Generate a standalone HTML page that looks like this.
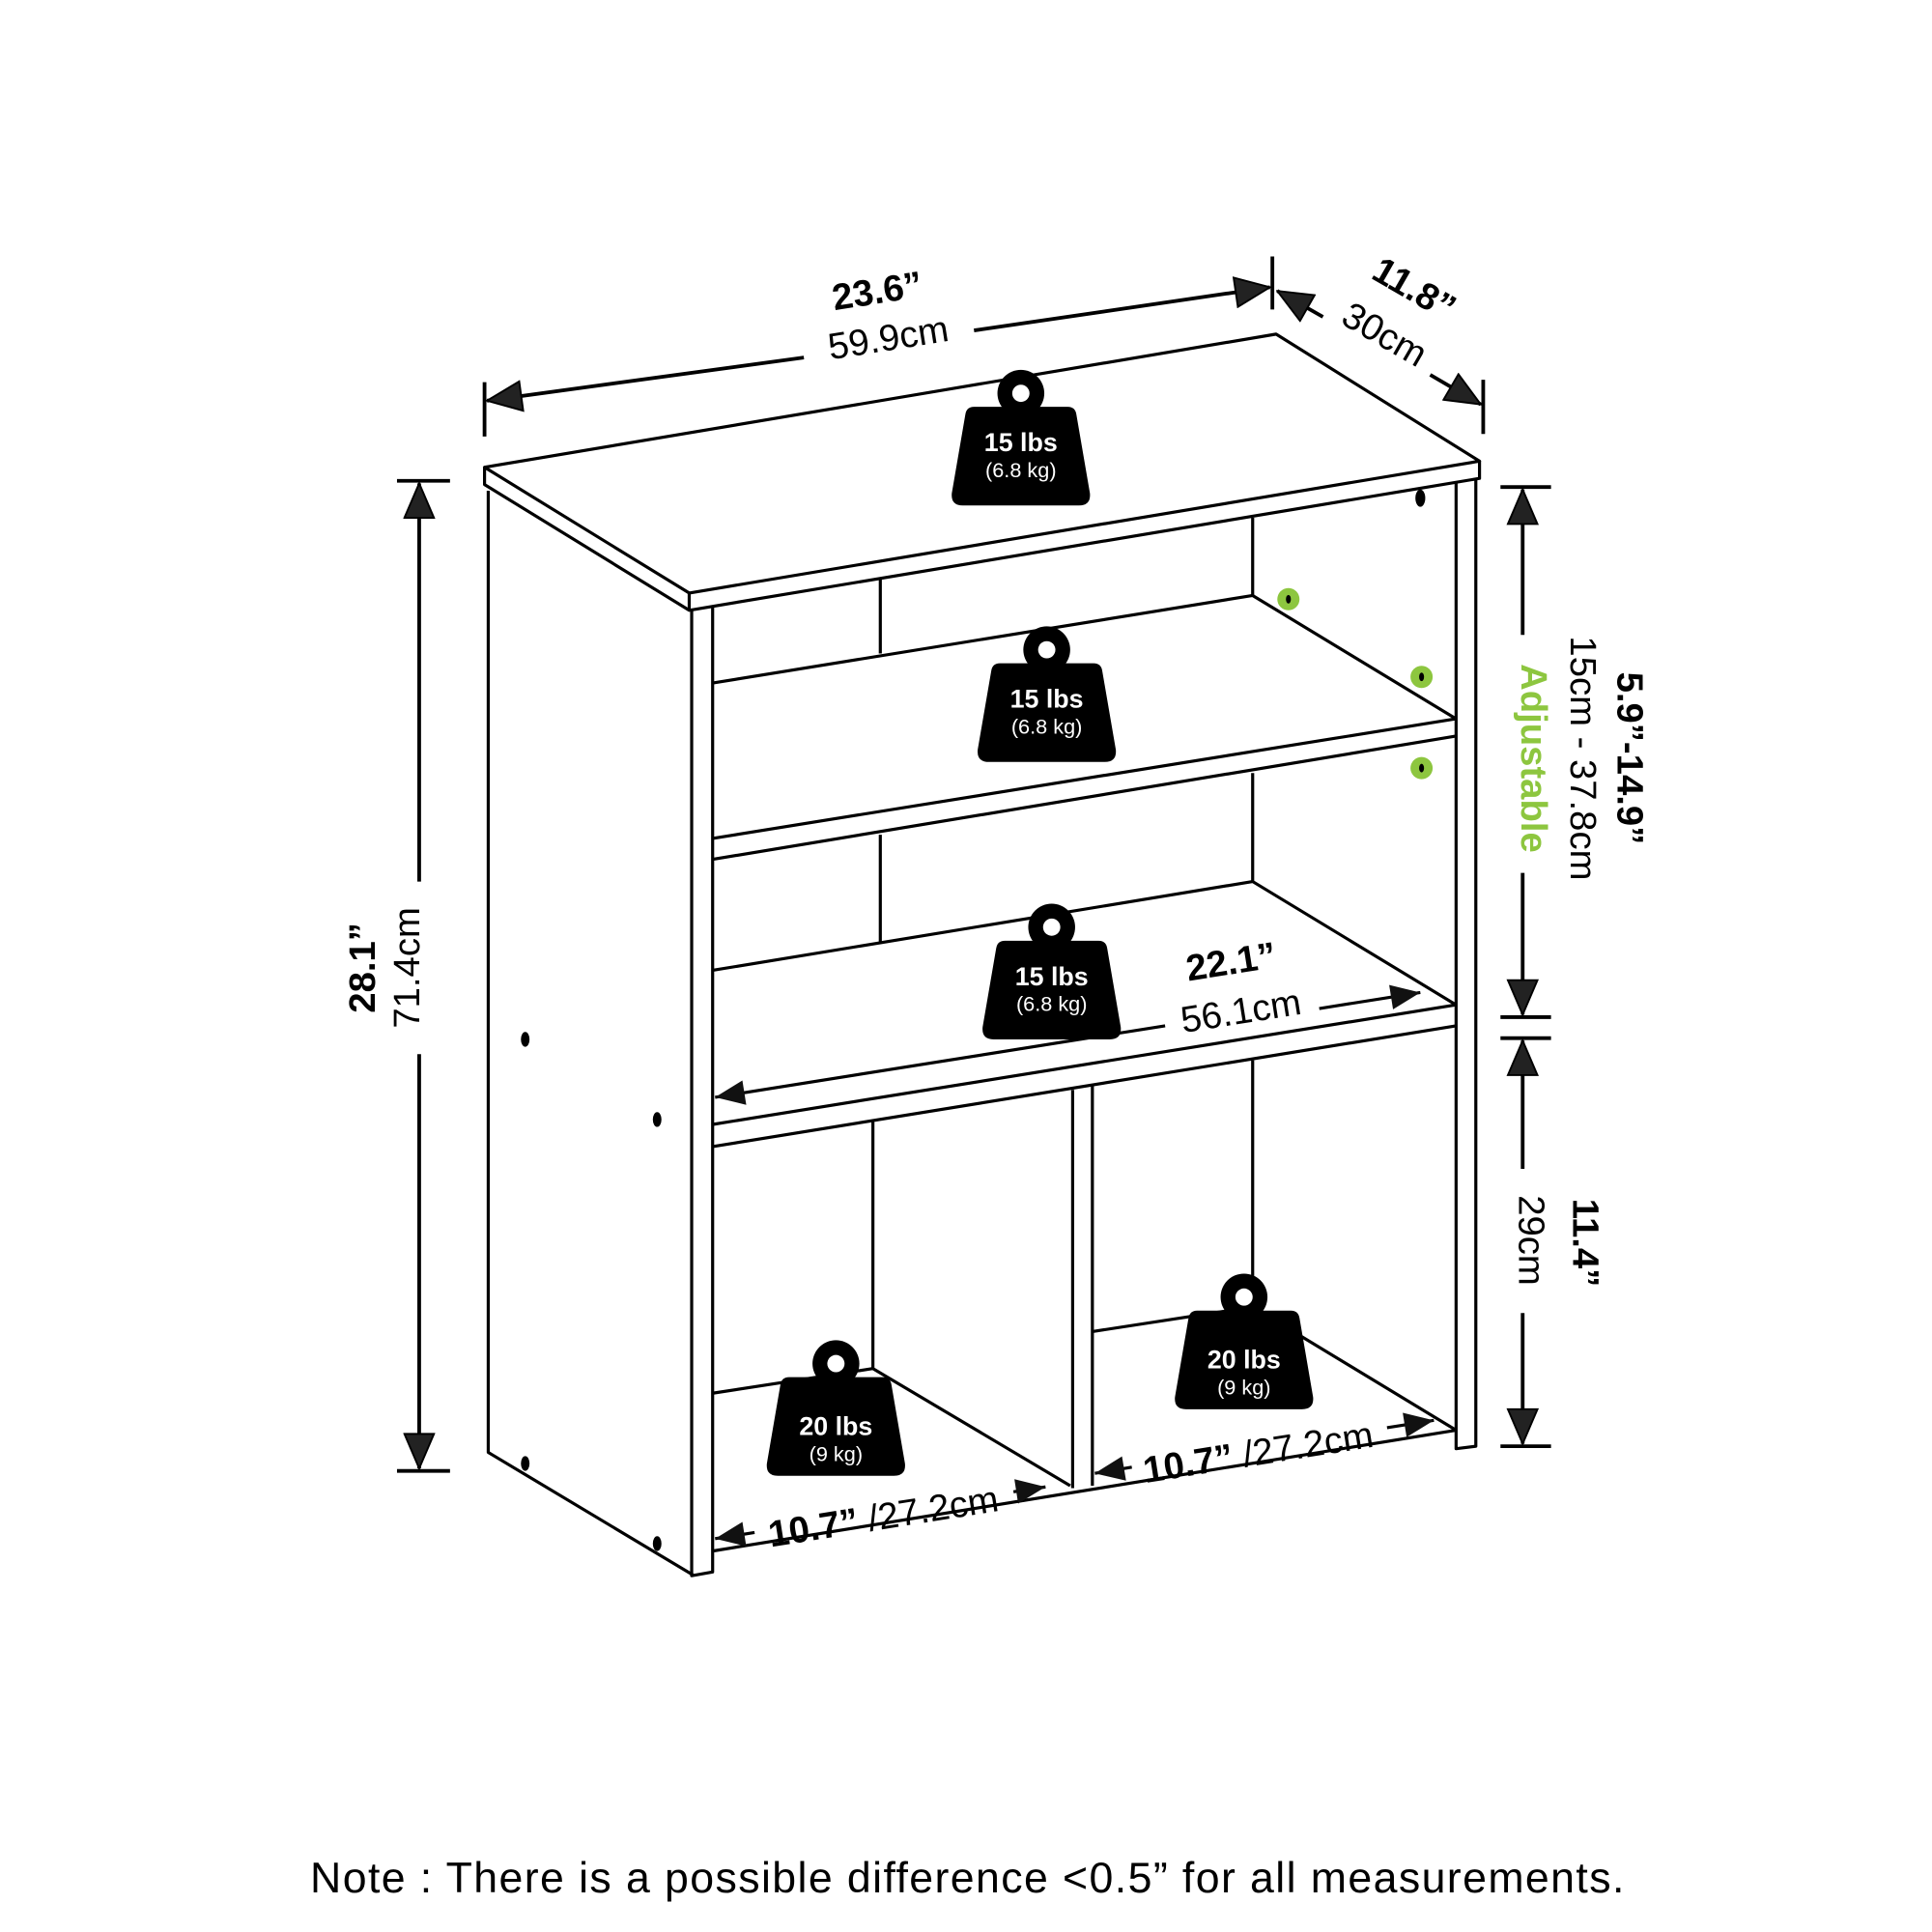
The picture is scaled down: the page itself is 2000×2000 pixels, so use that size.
<!DOCTYPE html>
<html><head><meta charset="utf-8"><style>
html,body{margin:0;padding:0;background:#fff}
svg{display:block}
text{font-family:"Liberation Sans",sans-serif}
</style></head><body>
<svg width="2000" height="2000" viewBox="0 0 1567 1567" xmlns="http://www.w3.org/2000/svg">
<defs>
<marker id="ah" viewBox="0 0 30 26" refX="29" refY="13" markerWidth="30" markerHeight="26" markerUnits="userSpaceOnUse" orient="auto"><path d="M1,1 L29,13 L1,25 z" fill="#222" stroke="#000" stroke-width="1.5"/></marker>
<marker id="as" viewBox="0 0 26 22" refX="25" refY="11" markerWidth="26" markerHeight="22" markerUnits="userSpaceOnUse" orient="auto"><path d="M1,1 L25,11 L1,21 z" fill="#111"/></marker>
<g id="wt">
<circle cx="0" cy="-36" r="19" fill="#000"/>
<circle cx="0" cy="-36" r="7" fill="#fff"/>
<path d="M-38,-25 L38,-25 Q44,-25 45,-19 L56,45 Q57,55 47,55 L-47,55 Q-57,55 -56,45 L-45,-19 Q-44,-25 -38,-25 z" fill="#000"/>
</g>
</defs>
<g fill="none" stroke="#000" stroke-width="2.5" stroke-linejoin="round">
<path d="M393,379 L1035,271 L1200,374 L559,481 Z" fill="#fff"/>
<path d="M393,379 L393,393 L559,495 L1200,388 L1200,374"/>
<path d="M559,481 L559,495"/>
<path d="M396,398 L396,1178 L563,1278"/>
<path d="M561,495 L561,1278 L578,1275 L578,492"/>
<path d="M1181,391 L1181,1175 L1197,1173 L1197,389"/>
<path d="M714,470 L714,530 M1016,420 L1016,483 M714,677 L714,765 M1016,627 L1016,715 M708,910 L708,1110 M1016,860 L1016,1060"/>
<path d="M578,554 L1016,483 L1181,583 M578,680 L1181,583 M578,697 L1181,597"/>
<path d="M578,787 L1016,715 L1181,815 M578,912 L1181,815 M578,930 L1181,832"/>
<path d="M870,884 L870,1207 M886,881 L886,1205"/>
<path d="M578,1130 L708,1110 L868,1205 M886,1080 L1016,1060 L1181,1160 M578,1258 L1181,1160"/>
</g>
<g fill="#000">
<ellipse cx="426" cy="843" rx="3.5" ry="6"/><ellipse cx="533" cy="908" rx="3.5" ry="6"/>
<ellipse cx="426" cy="1187" rx="3.5" ry="6"/><ellipse cx="533" cy="1252" rx="3.5" ry="6"/>
<ellipse cx="1152" cy="404" rx="4" ry="7"/>
</g>
<g fill="#8dc63f"><circle cx="1045" cy="486" r="9"/><circle cx="1153" cy="549" r="9"/><circle cx="1153" cy="623" r="9"/></g>
<g fill="#000"><ellipse cx="1045" cy="486" rx="2" ry="3.5"/><ellipse cx="1153" cy="549" rx="2" ry="3.5"/><ellipse cx="1153" cy="623" rx="2" ry="3.5"/></g>
<g stroke="#000" stroke-width="3" fill="none">
<path d="M393,310 L393,354 M1032,208 L1032,251 M1203,308 L1203,352"/>
<path d="M790,268 L1030,233" marker-end="url(#ah)"/>
<path d="M652,290 L395,325" marker-end="url(#ah)"/>
<path d="M1073,257 L1036,236" marker-end="url(#ah)"/>
<path d="M1160,304 L1201,328" marker-end="url(#ah)"/>
<path d="M322,390 L365,390 M322,1193 L365,1193"/>
<path d="M340,715 L340,392" marker-end="url(#ah)"/>
<path d="M340,855 L340,1191" marker-end="url(#ah)"/>
<path d="M1217,395 L1258,395 M1217,825 L1258,825 M1217,842 L1258,842 M1217,1173 L1258,1173"/>
<path d="M1235,515 L1235,397" marker-end="url(#ah)"/>
<path d="M1235,708 L1235,823" marker-end="url(#ah)"/>
<path d="M1235,948 L1235,844" marker-end="url(#ah)"/>
<path d="M1235,1065 L1235,1171" marker-end="url(#ah)"/>
<path d="M945,832 L580,890" marker-end="url(#as)" stroke-width="2.5"/>
<path d="M1070,818 L1152,805" marker-end="url(#as)" stroke-width="2.5"/>
<path d="M612,1243 L580,1248" marker-end="url(#as)" stroke-width="2.5"/>
<path d="M822,1210 L848,1206" marker-end="url(#as)" stroke-width="2.5"/>
<path d="M918,1190 L888,1195" marker-end="url(#as)" stroke-width="2.5"/>
<path d="M1125,1158 L1163,1152" marker-end="url(#as)" stroke-width="2.5"/>
</g>
<g fill="#000">
<text transform="translate(713,246) rotate(-9)" font-size="30" font-weight="bold" text-anchor="middle">23.6”</text>
<text transform="translate(722,284) rotate(-9)" font-size="30" text-anchor="middle">59.9cm</text>
<text transform="translate(1142,243) rotate(30)" font-size="30" font-weight="bold" text-anchor="middle">11.8”</text>
<text transform="translate(1118,280) rotate(30)" font-size="30" text-anchor="middle">30cm</text>
<text transform="translate(304,785) rotate(-90)" font-size="30" font-weight="bold" text-anchor="middle">28.1”</text>
<text transform="translate(340,785) rotate(-90)" font-size="30" text-anchor="middle">71.4cm</text>
<text transform="translate(1312,615) rotate(90)" font-size="30" font-weight="bold" text-anchor="middle">5.9”-14.9”</text>
<text transform="translate(1274,615) rotate(90)" font-size="30" text-anchor="middle">15cm - 37.8cm</text>
<text transform="translate(1234,615) rotate(90)" font-size="30" font-weight="bold" fill="#8dc63f" text-anchor="middle">Adjustable</text>
<text transform="translate(1276,1008) rotate(90)" font-size="30" font-weight="bold" text-anchor="middle">11.4”</text>
<text transform="translate(1232,1006) rotate(90)" font-size="30" text-anchor="middle">29cm</text>
<text transform="translate(1000,790) rotate(-9)" font-size="30" font-weight="bold" text-anchor="middle">22.1”</text>
<text transform="translate(1008,830) rotate(-9)" font-size="30" text-anchor="middle">56.1cm</text>
<text transform="translate(718,1240) rotate(-9)" font-size="30" text-anchor="middle"><tspan font-weight="bold">10.7”</tspan> /27.2cm</text>
<text transform="translate(1022,1188) rotate(-9)" font-size="30" text-anchor="middle"><tspan font-weight="bold">10.7”</tspan> /27.2cm</text>
<text x="785" y="1535" font-size="35" letter-spacing="1.1" text-anchor="middle">Note : There is a possible difference &lt;0.5” for all measurements.</text>
</g>
<g>
<use href="#wt" x="828" y="355"/><use href="#wt" x="849" y="563"/><use href="#wt" x="853" y="788"/>
<use href="#wt" x="678" y="1142"/><use href="#wt" x="1009" y="1088"/>
</g>
<g fill="#fff" text-anchor="middle">
<text x="828" y="366" font-size="21" font-weight="bold">15 lbs</text><text x="828" y="387" font-size="17">(6.8 kg)</text>
<text x="849" y="574" font-size="21" font-weight="bold">15 lbs</text><text x="849" y="595" font-size="17">(6.8 kg)</text>
<text x="853" y="799" font-size="21" font-weight="bold">15 lbs</text><text x="853" y="820" font-size="17">(6.8 kg)</text>
<text x="678" y="1164" font-size="21" font-weight="bold">20 lbs</text><text x="678" y="1185" font-size="17">(9 kg)</text>
<text x="1009" y="1110" font-size="21" font-weight="bold">20 lbs</text><text x="1009" y="1131" font-size="17">(9 kg)</text>
</g>
</svg>
</body></html>
